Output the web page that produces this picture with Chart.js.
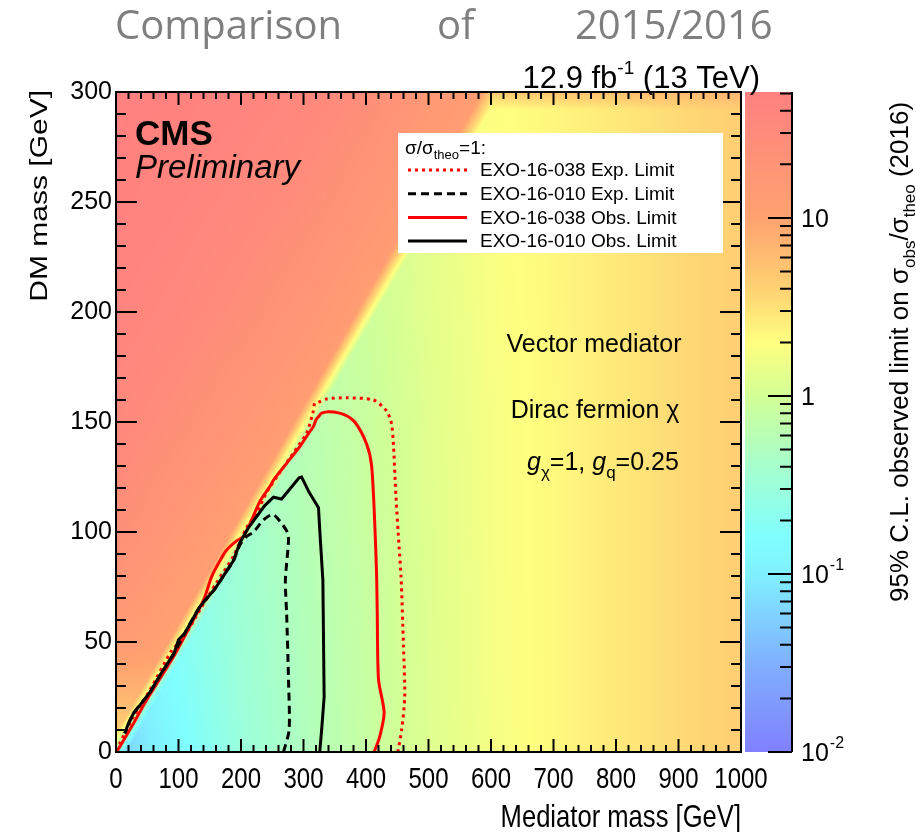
<!DOCTYPE html>
<html>
<head>
<meta charset="utf-8">
<title>Comparison of 2015/2016</title>
<script src="https://cdn.jsdelivr.net/npm/chart.js@4.4.1/dist/chart.umd.min.js"></script>
<style>
  html, body { margin: 0; padding: 0; background: #fff; }
  #wrap { position: relative; width: 916px; height: 832px; }
</style>
</head>
<body>
<div id="wrap"><canvas id="chart" width="916" height="832"></canvas></div>
<script>
// axes
const mediatorRange = [0, 1000];
const mediatorLabels = [0, 100, 200, 300, 400, 500, 600, 700, 800, 900, 1000];
const dmRange = [0, 300];
const limitRange = [0.01, 51];
const limitLabels = [0.01, 0.1, 1, 10];

// sigma/sigma_theo = 1 contours (mediator mass, DM mass) in GeV
const exo038ExpMed = [451, 457, 462, 460, 456, 453, 448, 444, 441, 433, 412, 369, 337, 324, 318, 315, 305, 284, 262, 241, 225, 209, 188, 161, 134, 108, 89, 54, 28, 6, 0];
const exo038ExpDm  = [0, 10, 25, 48, 80, 93, 116, 139, 149, 155, 160, 161, 160.5, 159, 158.5, 154, 145, 136, 127, 118, 108.5, 102, 89, 77, 64.5, 52, 46, 28, 16, 4, 0];

const exo010ExpMed = [268, 277, 276, 273, 271, 276, 274, 262, 251, 236, 220, 209, 198, 188, 174, 158, 134, 110, 93, 73, 54, 28, 14];
const exo010ExpDm  = [0, 10, 33, 63, 78, 96, 100, 105, 108, 105.5, 100, 98, 94, 87, 81, 74, 66, 54, 45, 36, 27, 17.6, 8.5];

const exo038ObsMed = [413, 422, 429, 420, 418, 417, 414, 409, 401, 382, 364, 342, 329, 324, 320, 316, 310, 294, 273, 252, 246, 230, 217, 204, 193, 177, 164, 153, 140, 118, 92, 49, 28, 1];
const exo038ObsDm  = [0, 7, 18, 33, 63, 80, 104, 130, 140, 150, 153.5, 154.7, 154, 152.4, 151, 148, 145.6, 138.8, 131.2, 123.6, 120.6, 113.8, 105.5, 97.9, 96, 91.8, 85.8, 79.7, 69, 57, 43.3, 23.6, 13, 0];

const exo010ObsMed = [326, 329, 333, 331, 326, 324, 309, 297, 293, 265, 252, 238, 225, 212, 198, 188, 174, 158, 134, 124, 110, 100, 93, 73, 54, 46, 28, 20, 14];
const exo010ObsDm  = [0, 10, 25, 78, 101, 111, 118, 125, 124.6, 115, 115.8, 112, 107, 102, 95, 87, 81, 74, 66, 61, 54, 51, 45, 36, 27, 24, 17.6, 13, 8.5];

// observed limit map (sigma_obs/sigma_theo)
const onShellMed = [0, 50, 100, 200, 300, 400, 500, 600, 700, 800, 900, 1000];
const onShellDm = [0, 150, 300];
const onShellLimit = [
  [0.05, 0.09, 0.14, 0.3, 0.5, 0.8, 1.2, 1.7, 2.2, 2.8, 3.5, 4.3],
  [0.2, 0.25, 0.3, 0.4, 0.6, 0.85, 1.25, 1.75, 2.2, 2.8, 3.5, 4.3],
  [0.5, 0.5, 0.5, 0.6, 0.8, 1.0, 1.4, 1.9, 2.3, 2.8, 3.5, 4.3]
];
const offShellMed = [0, 100, 200, 300, 400, 500, 600];
const offShellDm = [0, 50, 100, 150, 200, 250, 300];
const offShellLimit = [
  [3, 6, 6, 6, 6, 6, 6],
  [14, 10, 9, 8, 7, 7, 7],
  [25, 16, 11, 10, 9, 8, 8],
  [35, 25, 17, 12, 10, 9, 9],
  [42, 35, 26, 18, 12, 10, 10],
  [47, 42, 35, 27, 18, 12, 11],
  [50, 48, 43, 36, 27, 16, 12]
];
// edge between the two regions (DM mass = half mediator mass)
const edgeMed = [0, 600];
const edgeDm = [0, 300];

// colour palette (log10 of limit -> rgb)
const paletteLog = [-2, -1.5, -1, -0.8, -0.4, 0, 0.3, 0.6, 1, 1.71];
const paletteRGB = [[128,128,255],[128,176,255],[128,240,255],[128,255,255],[165,255,205],[210,255,150],[255,255,128],[255,210,115],[255,162,112],[255,128,128]];

Chart.defaults.font.family = "'Liberation Sans', Arial, sans-serif";
Chart.defaults.color = '#000';

const sans = "'Liberation Sans', Arial, sans-serif";

function interp1(xs, v) {
  if (v <= xs[0]) return [0, 0];
  if (v >= xs[xs.length - 1]) return [xs.length - 2, 1];
  let i = 0;
  while (v > xs[i + 1]) i++;
  return [i, (v - xs[i]) / (xs[i + 1] - xs[i])];
}

function gridLog(xs, ys, grid, xv, yv) {
  const [i, tx] = interp1(xs, xv);
  const [j, ty] = interp1(ys, yv);
  const l = Math.log10;
  const a = l(grid[j][i]) * (1 - tx) + l(grid[j][i + 1]) * tx;
  const b = l(grid[j + 1][i]) * (1 - tx) + l(grid[j + 1][i + 1]) * tx;
  return a * (1 - ty) + b * ty;
}

function lineAt(xs, ys, v) {
  const [i, t] = interp1(xs, v);
  return ys[i] * (1 - t) + ys[i + 1] * t;
}

function paletteColor(lz) {
  const [i, t] = interp1(paletteLog, lz);
  const c0 = paletteRGB[i], c1 = paletteRGB[i + 1];
  return [0, 1, 2].map(k => Math.round(c0[k] * (1 - t) + c1[k] * t));
}

function points(meds, dms) {
  return meds.map((m, i) => ({ x: m, y: dms[i] }));
}

// narrow text (the axes use a condensed face)
function narrowText(ctx, s, x, y, size, align) {
  ctx.save();
  ctx.font = `${size}px ${sans}`;
  ctx.translate(x, y);
  ctx.scale(0.8, 1);
  ctx.textAlign = align;
  ctx.fillText(s, 0, 0);
  ctx.restore();
}

// heat map + colour bar, drawn through the scales
const mapPlugin = {
  id: 'limitMap',
  beforeDatasetsDraw(chart) {
    const { ctx, chartArea: a, scales: { x, y, z } } = chart;
    const w = Math.round(a.right - a.left), h = Math.round(a.bottom - a.top);
    const off = document.createElement('canvas');
    off.width = w; off.height = h;
    const octx = off.getContext('2d');
    const img = octx.createImageData(w, h);
    const blend = 36;
    for (let py = 0; py < h; py++) {
      const dm = y.getValueForPixel(a.top + py + 0.5);
      for (let px = 0; px < w; px++) {
        const med = x.getValueForPixel(a.left + px + 0.5);
        const edgePx = y.getPixelForValue(lineAt(edgeMed, edgeDm, med));
        const d = edgePx - (a.top + py + 0.5);
        const t = Math.min(1, Math.max(0, 0.5 + d / blend));
        const on = gridLog(onShellMed, onShellDm, onShellLimit, med, dm);
        const of = gridLog(offShellMed, offShellDm, offShellLimit, med, dm);
        const c = paletteColor(on * (1 - t) + of * t);
        const k = (py * w + px) * 4;
        img.data[k] = c[0]; img.data[k + 1] = c[1]; img.data[k + 2] = c[2]; img.data[k + 3] = 255;
      }
    }
    octx.putImageData(img, 0, 0);
    ctx.drawImage(off, a.left, a.top);

    // colour bar
    const x0 = a.right + 4, x1 = a.right + 51;
    for (let py = Math.round(z.top); py < Math.round(z.bottom); py++) {
      const v = z.getValueForPixel(py + 0.5);
      const c = paletteColor(Math.log10(v));
      ctx.fillStyle = `rgb(${c[0]},${c[1]},${c[2]})`;
      ctx.fillRect(x0, py, x1 - x0, 1);
    }
  },
  afterDatasetsDraw(chart) {
    const { ctx, chartArea: a, scales: { x, y, z } } = chart;
    ctx.save();
    ctx.strokeStyle = '#000';
    ctx.lineWidth = 2;
    ctx.beginPath();
    for (let v = mediatorRange[0]; v <= mediatorRange[1]; v += 20) {
      const px = x.getPixelForValue(v);
      const len = v % 100 === 0 ? 13 : 7;
      ctx.moveTo(px, a.bottom); ctx.lineTo(px, a.bottom - len);
      ctx.moveTo(px, a.top); ctx.lineTo(px, a.top + len);
    }
    for (let v = dmRange[0]; v <= dmRange[1]; v += 10) {
      const py = y.getPixelForValue(v);
      const len = v % 50 === 0 ? 21 : 10;
      ctx.moveTo(a.left, py); ctx.lineTo(a.left + len, py);
      ctx.moveTo(a.right, py); ctx.lineTo(a.right - len, py);
    }
    ctx.stroke();
    ctx.strokeRect(a.left, a.top, a.right - a.left, a.bottom - a.top);

    // x axis labels and title
    ctx.fillStyle = '#000';
    ctx.textBaseline = 'alphabetic';
    mediatorLabels.forEach(v => narrowText(ctx, String(v), x.getPixelForValue(v), a.bottom + 36, 30, 'center'));
    narrowText(ctx, 'Mediator mass [GeV]', a.right, 827, 32, 'right');

    // y axis title (rotated, condensed across the text)
    ctx.save();
    ctx.translate(47, a.top - 2);
    ctx.rotate(-Math.PI / 2);
    ctx.scale(1, 0.82);
    ctx.font = `30px ${sans}`;
    ctx.textAlign = 'right';
    ctx.fillText('DM mass [GeV]', 0, 0);
    ctx.restore();

    // colour bar axis
    const cx = a.right + 51;
    ctx.beginPath();
    ctx.moveTo(cx, z.top); ctx.lineTo(cx, z.bottom);
    for (let d = -2; d <= 1; d++) {
      for (let k = 1; k <= 9; k++) {
        const v = k * Math.pow(10, d);
        if (v > limitRange[1]) break;
        const py = z.getPixelForValue(v);
        ctx.moveTo(cx, py); ctx.lineTo(cx - (k === 1 ? 24 : 12), py);
      }
    }
    ctx.stroke();

    ctx.textBaseline = 'middle';
    limitLabels.forEach(v => {
      const py = z.getPixelForValue(v);
      const e = Math.round(Math.log10(v));
      ctx.font = `25px ${sans}`;
      ctx.textAlign = 'left';
      if (e >= 0) {
        ctx.fillText(String(v), cx + 9, py + 2);
      } else {
        ctx.fillText('10', cx + 9, py + 2);
        const wd = ctx.measureText('10').width;
        ctx.font = `16px ${sans}`;
        ctx.fillText(String(e), cx + 9 + wd + 1, py - 8);
      }
    });

    // colour bar title
    ctx.save();
    ctx.translate(908, 602);
    ctx.rotate(-Math.PI / 2);
    ctx.textBaseline = 'alphabetic';
    ctx.textAlign = 'left';
    let tx = 0;
    const run = (s, size, dy) => {
      ctx.font = `${size}px ${sans}`;
      ctx.fillText(s, tx, dy);
      tx += ctx.measureText(s).width;
    };
    run('95% C.L. observed limit on σ', 26, 0);
    run('obs', 17, 7);
    run('/σ', 26, 0);
    run('theo', 17, 7);
    run(' (2016)', 26, 0);
    ctx.restore();

    // page title
    ctx.fillStyle = '#7f7f7f';
    ctx.textBaseline = 'alphabetic';
    ctx.textAlign = 'left';
    ctx.font = "40px 'Open Sans', sans-serif";
    ctx.fillText('Comparison', 115, 39);
    ctx.fillText('of', 437, 39);
    ctx.fillText('2015/2016', 575, 39);

    // luminosity label
    ctx.fillStyle = '#000';
    ctx.font = `31px ${sans}`;
    const p1 = '12.9 fb', p3 = ' (13 TeV)';
    const w1 = ctx.measureText(p1).width, w3 = ctx.measureText(p3).width;
    ctx.font = `19px ${sans}`;
    const w2 = ctx.measureText('-1').width;
    const lx = 760 - (w1 + w2 + w3);
    ctx.font = `31px ${sans}`;
    ctx.fillText(p1, lx, 88);
    ctx.font = `19px ${sans}`;
    ctx.fillText('-1', lx + w1, 74);
    ctx.font = `31px ${sans}`;
    ctx.fillText(p3, lx + w1 + w2, 88);

    // CMS label
    ctx.font = `bold 35px ${sans}`;
    ctx.fillText('CMS', 135, 145);
    ctx.font = `italic 33px ${sans}`;
    ctx.fillText('Preliminary', 135, 178);

    // model text
    ctx.textAlign = 'center';
    ctx.font = `25px ${sans}`;
    ctx.fillText('Vector mediator', 594, 352);
    ctx.fillText('Dirac fermion χ', 595, 418);
    ctx.textAlign = 'left';
    let gx = 527;
    const grun = (s, font, dy) => {
      ctx.font = font;
      ctx.fillText(s, gx, 470 + dy);
      gx += ctx.measureText(s).width;
    };
    grun('g', `italic 25px ${sans}`, 0);
    grun('χ', `17px ${sans}`, 8);
    grun('=1, ', `25px ${sans}`, 0);
    grun('g', `italic 25px ${sans}`, 0);
    grun('q', `17px ${sans}`, 8);
    grun('=0.25', `25px ${sans}`, 0);

    // legend
    ctx.fillStyle = '#fff';
    ctx.fillRect(398, 133, 325, 120);
    ctx.fillStyle = '#000';
    let hx = 405;
    const hrun = (s, size, dy) => {
      ctx.font = `${size}px ${sans}`;
      ctx.fillText(s, hx, 154 + dy);
      hx += ctx.measureText(s).width;
    };
    hrun('σ/σ', 19, 0);
    hrun('theo', 13, 5);
    hrun('=1:', 19, 0);
    chart.data.datasets.forEach((ds, i) => {
      const ly = 170 + i * 23.7;
      ctx.save();
      ctx.strokeStyle = ds.borderColor;
      ctx.lineWidth = ds.borderWidth;
      ctx.setLineDash(ds.borderDash || []);
      ctx.beginPath();
      ctx.moveTo(408, ly); ctx.lineTo(467, ly);
      ctx.stroke();
      ctx.restore();
      ctx.font = `19px ${sans}`;
      ctx.textBaseline = 'middle';
      ctx.fillText(ds.label, 480, ly + 1);
    });
    ctx.restore();
  }
};

const ctx = document.getElementById('chart').getContext('2d');
new Chart(ctx, {
  type: 'scatter',
  data: {
    datasets: [
      { label: 'EXO-16-038 Exp. Limit', data: points(exo038ExpMed, exo038ExpDm), borderColor: '#ff0000', borderWidth: 3, borderDash: [3, 4], tension: 0.25, order: 3 },
      { label: 'EXO-16-010 Exp. Limit', data: points(exo010ExpMed, exo010ExpDm), borderColor: '#000000', borderWidth: 3, borderDash: [8, 5], tension: 0.25, order: 1 },
      { label: 'EXO-16-038 Obs. Limit', data: points(exo038ObsMed, exo038ObsDm), borderColor: '#ff0000', borderWidth: 3, tension: 0.25, order: 2 },
      { label: 'EXO-16-010 Obs. Limit', data: points(exo010ObsMed, exo010ObsDm), borderColor: '#000000', borderWidth: 3, tension: 0, order: 0 }
    ].map(d => Object.assign({ showLine: true, pointRadius: 0, pointHoverRadius: 0, fill: false }, d))
  },
  options: {
    responsive: false,
    animation: false,
    events: [],
    layout: { padding: { top: 92, left: 0, right: 0, bottom: 0 } },
    plugins: { legend: { display: false }, tooltip: { enabled: false }, title: { display: false } },
    scales: {
      x: {
        type: 'linear', position: 'bottom',
        min: mediatorRange[0], max: mediatorRange[1],
        grid: { display: false, drawTicks: false }, border: { display: false },
        ticks: { display: false, stepSize: 100 },
        afterFit(s) { s.height = 80; }
      },
      y: {
        type: 'linear', position: 'left',
        min: dmRange[0], max: dmRange[1],
        grid: { display: false, drawTicks: false }, border: { display: false },
        ticks: { stepSize: 50, autoSkip: false, padding: 4, font: { family: sans, size: 25 }, color: '#000' },
        afterFit(s) { s.width = 116; }
      },
      z: {
        type: 'logarithmic', position: 'right',
        min: limitRange[0], max: limitRange[1],
        grid: { display: false, drawTicks: false }, border: { display: false },
        ticks: { display: false },
        afterFit(s) { s.width = 175; }
      }
    }
  },
  plugins: [mapPlugin]
});
</script>
</body>
</html>
